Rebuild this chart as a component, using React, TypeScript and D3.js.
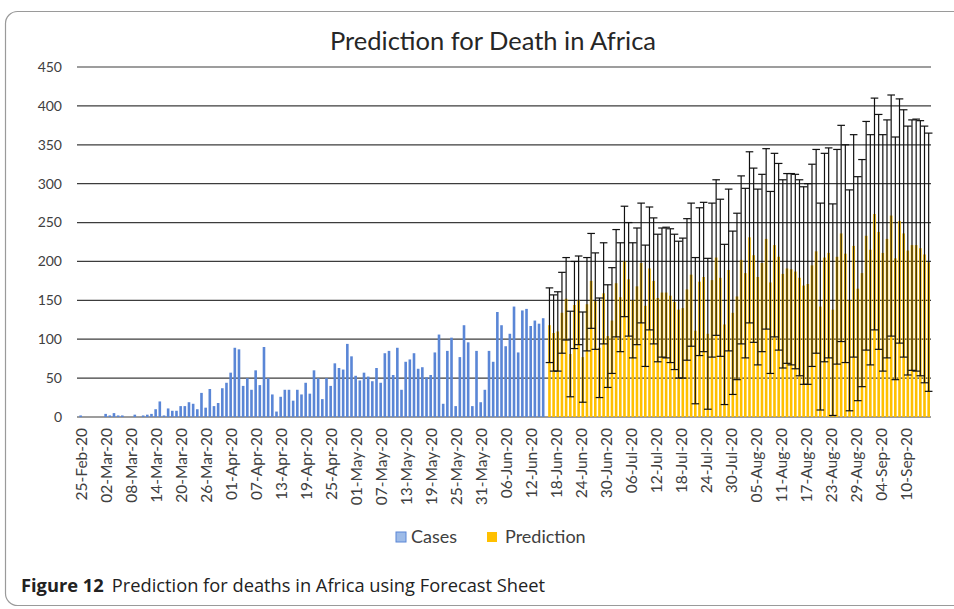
import React from "react";
import * as d3 from "d3";

// Daily deaths (actual), 25-Feb-20 .. 15-Jun-20
const cases: number[] = [
  2, 0, 0, 0, 0, 0, 4, 2, 5, 2, 2, 0, 0, 3, 0, 2, 3, 4, 10, 20,
  2, 11, 8, 8, 14, 14, 19, 17, 10, 31, 12, 36, 14, 18, 37, 44, 57, 89, 87, 40,
  50, 35, 60, 41, 90, 50, 29, 7, 26, 35, 35, 21, 35, 29, 44, 30, 60, 50, 23, 50,
  40, 69, 63, 61, 94, 78, 53, 47, 57, 52, 46, 63, 44, 82, 85, 54, 89, 35, 71, 74,
  82, 62, 64, 51, 54, 83, 106, 17, 85, 102, 14, 77, 118, 96, 14, 85, 19, 35, 85, 71,
  135, 118, 91, 107, 142, 83, 137, 139, 117, 124, 120, 127,
];

// Forecast, 16-Jun-20 .. 15-Sep-20
const prediction: number[] = [
  118, 108, 110, 134, 152, 81, 144, 150, 77, 145, 175, 149, 89, 159, 104, 124, 172, 154, 200, 177,
  150, 168, 198, 143, 191, 175, 153, 160, 160, 156, 148, 138, 140, 164, 183, 111, 174, 180, 107, 176,
  205, 179, 119, 189, 134, 155, 202, 185, 231, 208, 180, 198, 229, 173, 221, 206, 184, 191, 190, 187,
  179, 169, 171, 195, 213, 142, 205, 211, 138, 206, 236, 210, 150, 220, 165, 185, 233, 215, 261, 238,
  211, 229, 259, 204, 252, 236, 214, 221, 221, 217, 209, 199,
];

// Confidence interval half-width (error bar amount)
const confidence: number[] = [
  48, 49, 51, 52, 53, 55, 56, 57, 58, 60, 61, 62, 64, 65, 66, 68, 69, 70, 71, 73,
  74, 75, 77, 78, 79, 81, 82, 83, 84, 86, 87, 88, 90, 91, 92, 94, 95, 96, 97, 99,
  100, 101, 103, 104, 105, 107, 108, 109, 110, 112, 113, 114, 116, 117, 118, 120, 121, 122, 123, 125,
  126, 127, 129, 130, 131, 133, 134, 135, 136, 138, 139, 140, 142, 143, 144, 146, 147, 148, 149, 151,
  152, 153, 155, 156, 157, 159, 160, 161, 162, 164, 165, 166,
];

const tickLabels: string[] = [
  "25-Feb-20", "02-Mar-20", "08-Mar-20", "14-Mar-20", "20-Mar-20", "26-Mar-20", "01-Apr-20",
  "07-Apr-20", "13-Apr-20", "19-Apr-20", "25-Apr-20", "01-May-20", "07-May-20", "13-May-20",
  "19-May-20", "25-May-20", "31-May-20", "06-Jun-20", "12-Jun-20", "18-Jun-20", "24-Jun-20",
  "30-Jun-20", "06-Jul-20", "12-Jul-20", "18-Jul-20", "24-Jul-20", "30-Jul-20", "05-Aug-20",
  "11-Aug-20", "17-Aug-20", "23-Aug-20", "29-Aug-20", "04-Sep-20", "10-Sep-20",
];
const tickStep = 6;
const yTicks: number[] = [0, 50, 100, 150, 200, 250, 300, 350, 400, 450];

const title = "Prediction for Death in Africa";
const legendItems = [
  { name: "Cases", color: "#9dbbe8", stroke: "#5b86d6" },
  { name: "Prediction", color: "#ffc000", stroke: "#ffc000" },
];

export default function App() {
  const W = 954;
  const H = 609;
  const nCat = cases.length + prediction.length;
  const x = d3
    .scaleBand<number>()
    .domain(d3.range(nCat))
    .range([79.6, 929.7])
    .paddingInner(0)
    .paddingOuter(0);
  const y = d3.scaleLinear().domain([0, 450]).range([417, 67]);
  const bw = x.bandwidth();
  const barW = 2.6;
  const off = 1.05;
  const cx = (i: number) => (x(i) as number) + bw / 2;
  const font = "Lato, 'Open Sans', sans-serif";
  const capHalf = 3.8;

  return (
    <svg
      width={W}
      height={H}
      style={{ position: "absolute", left: 0, top: 0, background: "#fff" }}
      fontFamily={font}
    >
      <rect x={5.5} y={11.5} width={1000} height={594} rx={12} fill="#fff" stroke="#9a9a9a" strokeWidth={1.2} />
      <text x={493} y={50} textAnchor="middle" fontSize={25.5} fill="#262626">
        {title}
      </text>

      {/* gridlines */}
      {yTicks.map((t) => (
        <g key={t}>
          <line x1={77} x2={931} y1={y(t)} y2={y(t)} stroke="#3c3c3c" strokeWidth={1.2} />
          <text x={62} y={y(t)} dy="0.35em" textAnchor="end" fontSize={14} fill="#404040">
            {t}
          </text>
        </g>
      ))}

      {/* cases bars */}
      {cases.map((v, i) => (
        <rect key={"c" + i} x={cx(i) - off - barW / 2} y={y(v)} width={barW} height={y(0) - y(v)} fill="#5a86d6" />
      ))}

      {/* prediction bars */}
      {prediction.map((v, k) => {
        const i = cases.length + k;
        return (
          <rect key={"p" + k} x={cx(i) + off - barW / 2} y={y(v)} width={barW} height={y(0) - y(v)} fill="#ffc000" />
        );
      })}

      {/* error bars */}
      {prediction.map((v, k) => {
        const i = cases.length + k;
        const px = cx(i) + off;
        const hi = y(v + confidence[k]);
        const lo = y(Math.max(0, v - confidence[k]));
        return (
          <g key={"e" + k} stroke="#111" strokeWidth={1.2}>
            <line x1={px} x2={px} y1={hi} y2={lo} />
            <line x1={px - capHalf} x2={px + capHalf} y1={hi} y2={hi} />
            <line x1={px - capHalf} x2={px + capHalf} y1={lo} y2={lo} />
          </g>
        );
      })}

      {/* x labels */}
      {tickLabels.map((lab, k) => {
        const i = k * tickStep;
        return (
          <text
            key={lab}
            transform={`translate(${cx(i)},428) rotate(-90)`}
            dy="0.35em"
            textAnchor="end"
            fontSize={15.5}
            fill="#404040"
          >
            {lab}
          </text>
        );
      })}

      {/* legend */}
      <g>
        <rect x={396} y={532} width={10} height={10} fill={legendItems[0].color} stroke={legendItems[0].stroke} strokeWidth={1} />
        <text x={411} y={537} dy="0.35em" fontSize={18} fill="#404040">
          {legendItems[0].name}
        </text>
        <rect x={487} y={532} width={10} height={10} fill={legendItems[1].color} />
        <text x={505} y={537} dy="0.35em" fontSize={18} fill="#404040">
          {legendItems[1].name}
        </text>
      </g>

      {/* caption */}
      <text x={21} y={592} fontSize={18.3} fontFamily="'Open Sans', sans-serif" fill="#222">
        <tspan fontWeight="bold">Figure 12</tspan>
        <tspan dx={8}>Prediction for deaths in Africa using Forecast Sheet</tspan>
      </text>
    </svg>
  );
}
